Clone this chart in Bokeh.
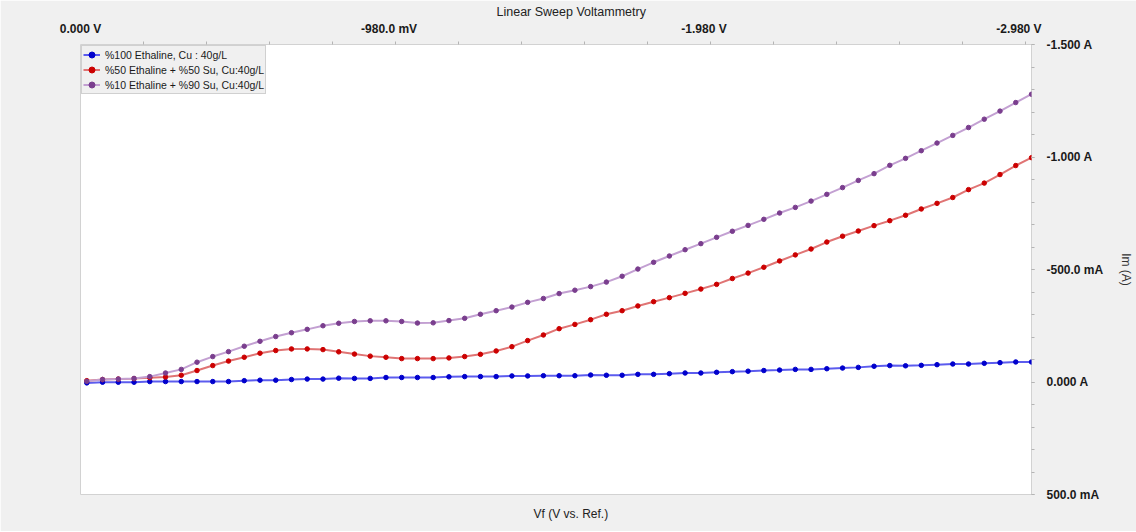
from bokeh.plotting import figure
from bokeh.models import Range1d, FixedTicker, CustomJSTickFormatter, Title
from bokeh.embed import file_html
from bokeh.resources import INLINE

# ---------------- data ----------------
volts = [-0.02, -0.07, -0.12, -0.17, -0.22, -0.27, -0.32, -0.37, -0.42, -0.47,
         -0.52, -0.57, -0.62, -0.67, -0.72, -0.77, -0.82, -0.87, -0.92, -0.97,
         -1.02, -1.07, -1.12, -1.17, -1.22, -1.27, -1.32, -1.37, -1.42, -1.47,
         -1.52, -1.57, -1.62, -1.67, -1.72, -1.77, -1.82, -1.87, -1.92, -1.97,
         -2.02, -2.07, -2.12, -2.17, -2.22, -2.27, -2.32, -2.37, -2.42, -2.47,
         -2.52, -2.57, -2.62, -2.67, -2.72, -2.77, -2.82, -2.87, -2.92, -2.97,
         -3.02]

i_100 = [0.004, 0.001, 0.001, 0.001, -0.002, -0.002, -0.002, -0.002, -0.002, -0.002,
         -0.006, -0.008, -0.008, -0.011, -0.013, -0.013, -0.017, -0.016, -0.016, -0.020,
         -0.020, -0.020, -0.020, -0.023, -0.024, -0.024, -0.024, -0.027, -0.027, -0.028,
         -0.028, -0.028, -0.031, -0.030, -0.030, -0.034, -0.034, -0.037, -0.040, -0.040,
         -0.043, -0.046, -0.048, -0.051, -0.053, -0.056, -0.056, -0.059, -0.062, -0.065,
         -0.070, -0.073, -0.072, -0.074, -0.077, -0.080, -0.080, -0.083, -0.086, -0.089,
         -0.089]

i_50 = [-0.006, -0.011, -0.013, -0.015, -0.019, -0.022, -0.030, -0.051, -0.073, -0.093,
        -0.110, -0.128, -0.140, -0.147, -0.147, -0.144, -0.134, -0.124, -0.115, -0.110,
        -0.104, -0.104, -0.104, -0.107, -0.113, -0.123, -0.138, -0.157, -0.184, -0.209,
        -0.237, -0.256, -0.277, -0.301, -0.317, -0.338, -0.357, -0.375, -0.394, -0.413,
        -0.434, -0.460, -0.484, -0.510, -0.538, -0.565, -0.591, -0.622, -0.648, -0.671,
        -0.695, -0.717, -0.741, -0.769, -0.794, -0.820, -0.855, -0.884, -0.922, -0.962,
        -0.997]

i_10 = [-0.003, -0.011, -0.013, -0.016, -0.024, -0.040, -0.056, -0.088, -0.113, -0.135,
        -0.159, -0.181, -0.202, -0.219, -0.234, -0.250, -0.261, -0.269, -0.272, -0.272,
        -0.269, -0.262, -0.263, -0.273, -0.283, -0.301, -0.317, -0.333, -0.354, -0.371,
        -0.393, -0.408, -0.424, -0.444, -0.470, -0.502, -0.532, -0.560, -0.588, -0.615,
        -0.643, -0.670, -0.696, -0.723, -0.751, -0.776, -0.804, -0.834, -0.864, -0.896,
        -0.926, -0.963, -0.994, -1.028, -1.062, -1.096, -1.131, -1.168, -1.204, -1.242,
        -1.279]

series_names = ["%100 Ethaline, Cu : 40g/L",
                "%50 Ethaline + %50 Su, Cu:40g/L",
                "%10 Ethaline + %90 Su, Cu:40g/L"]
marker_colors = ["#0000CC", "#CC0000", "#7A3E8E"]
line_colors = ["#5C5CEE", "#E07474", "#C3A0D2"]

x_tick_vals = [0.0, -0.98, -1.98, -2.98]
x_tick_labels = ["0.000 V", "-980.0 mV", "-1.980 V", "-2.980 V"]
x_minor_vals = [-0.2, -0.4, -0.6, -0.8, -1.0, -1.2, -1.4, -1.6, -1.8, -2.0,
                -2.2, -2.4, -2.6, -2.8, -3.0]
y_tick_vals = [-1.5, -1.0, -0.5, 0.0, 0.5]
y_tick_labels = ["-1.500 A", "-1.000 A", "-500.0 mA", "0.000 A", "500.0 mA"]
y_minor_vals = [-1.5, -1.4, -1.3, -1.2, -1.1, -1.0, -0.9, -0.8, -0.7, -0.6, -0.5,
                -0.4, -0.3, -0.2, -0.1, 0.0, 0.1, 0.2, 0.3, 0.4, 0.5]

title_text = "Linear Sweep Voltammetry"
x_label = "Vf (V vs. Ref.)"
y_label = "Im (A)"

FONT = "Liberation Sans"


def label_formatter(vals, labs):
    return CustomJSTickFormatter(args=dict(vals=vals, labs=labs), code="""
        for (let i = 0; i < vals.length; i++) {
            if (Math.abs(vals[i] - tick) < 1e-6) { return labs[i]; }
        }
        return "";
    """)


p = figure(frame_width=951, frame_height=450,
           x_range=Range1d(0.0, -3.02), y_range=Range1d(0.5, -1.5),
           x_axis_location="above", y_axis_location="right",
           toolbar_location=None, output_backend="svg",
           min_border_left=80, min_border_top=44, min_border_bottom=30,
           min_border_right=96,
           background_fill_color="white", border_fill_color="#F0F0F0",
           outline_line_color="#D2D2D2", title=title_text)

p.xgrid.grid_line_color = None
p.ygrid.grid_line_color = None

# title
p.title.align = "left"
p.title.offset = 416
p.title.standoff = 0
p.title.text_font = FONT
p.title.text_font_size = "12.5px"
p.title.text_font_style = "normal"
p.title.text_color = "#222222"

# bottom label
p.add_layout(Title(text=x_label, align="left", offset=453, standoff=21,
                   text_font=FONT, text_font_size="12px",
                   text_font_style="normal", text_color="#222222"), "below")

# x axis (top)
xa = p.xaxis[0]
xa.ticker = FixedTicker(ticks=x_tick_vals, minor_ticks=x_minor_vals)
xa.formatter = label_formatter(x_tick_vals, x_tick_labels)
xa.axis_line_color = None
xa.major_tick_out = 0
xa.major_tick_in = 0
xa.minor_tick_out = 3
xa.minor_tick_in = 0
xa.minor_tick_line_color = "#B4B4B4"
xa.major_label_standoff = 6
xa.major_label_text_font = FONT
xa.major_label_text_font_size = "12px"
xa.major_label_text_font_style = "bold"
xa.major_label_text_color = "#1A1A1A"

# y axis (right)
ya = p.yaxis[0]
ya.ticker = FixedTicker(ticks=y_tick_vals, minor_ticks=y_minor_vals)
ya.formatter = label_formatter(y_tick_vals, y_tick_labels)
ya.axis_line_color = None
ya.major_tick_out = 3
ya.major_tick_in = 0
ya.minor_tick_out = 3
ya.minor_tick_in = 0
ya.major_tick_line_color = "#B4B4B4"
ya.minor_tick_line_color = "#B4B4B4"
ya.major_label_standoff = 12
ya.major_label_text_font = FONT
ya.major_label_text_font_size = "12px"
ya.major_label_text_font_style = "bold"
ya.major_label_text_color = "#1A1A1A"
ya.axis_label = y_label
ya.axis_label_standoff = 13
ya.axis_label_text_font = FONT
ya.axis_label_text_font_size = "12px"
ya.axis_label_text_font_style = "normal"
ya.axis_label_text_color = "#333333"

# series
for ys, name, mc, lc in zip([i_100, i_50, i_10], series_names, marker_colors, line_colors):
    p.line(volts, ys, line_color=lc, line_width=2, legend_label=name)
    p.scatter(volts, ys, size=4.5, fill_color=mc, line_color=mc, legend_label=name)

lg = p.legend[0]
lg.location = "top_left"
lg.margin = 1
lg.padding = 1
lg.spacing = 0
lg.glyph_width = 17
lg.glyph_height = 15
lg.label_height = 15
lg.label_standoff = 5
lg.label_text_font = FONT
lg.label_text_font_size = "10.5px"
lg.label_text_color = "#1A1A1A"
lg.background_fill_color = "#F0F0F0"
lg.background_fill_alpha = 1.0
lg.border_line_color = "#B0B0B0"

open("out.html", "w").write(file_html(p, INLINE))
